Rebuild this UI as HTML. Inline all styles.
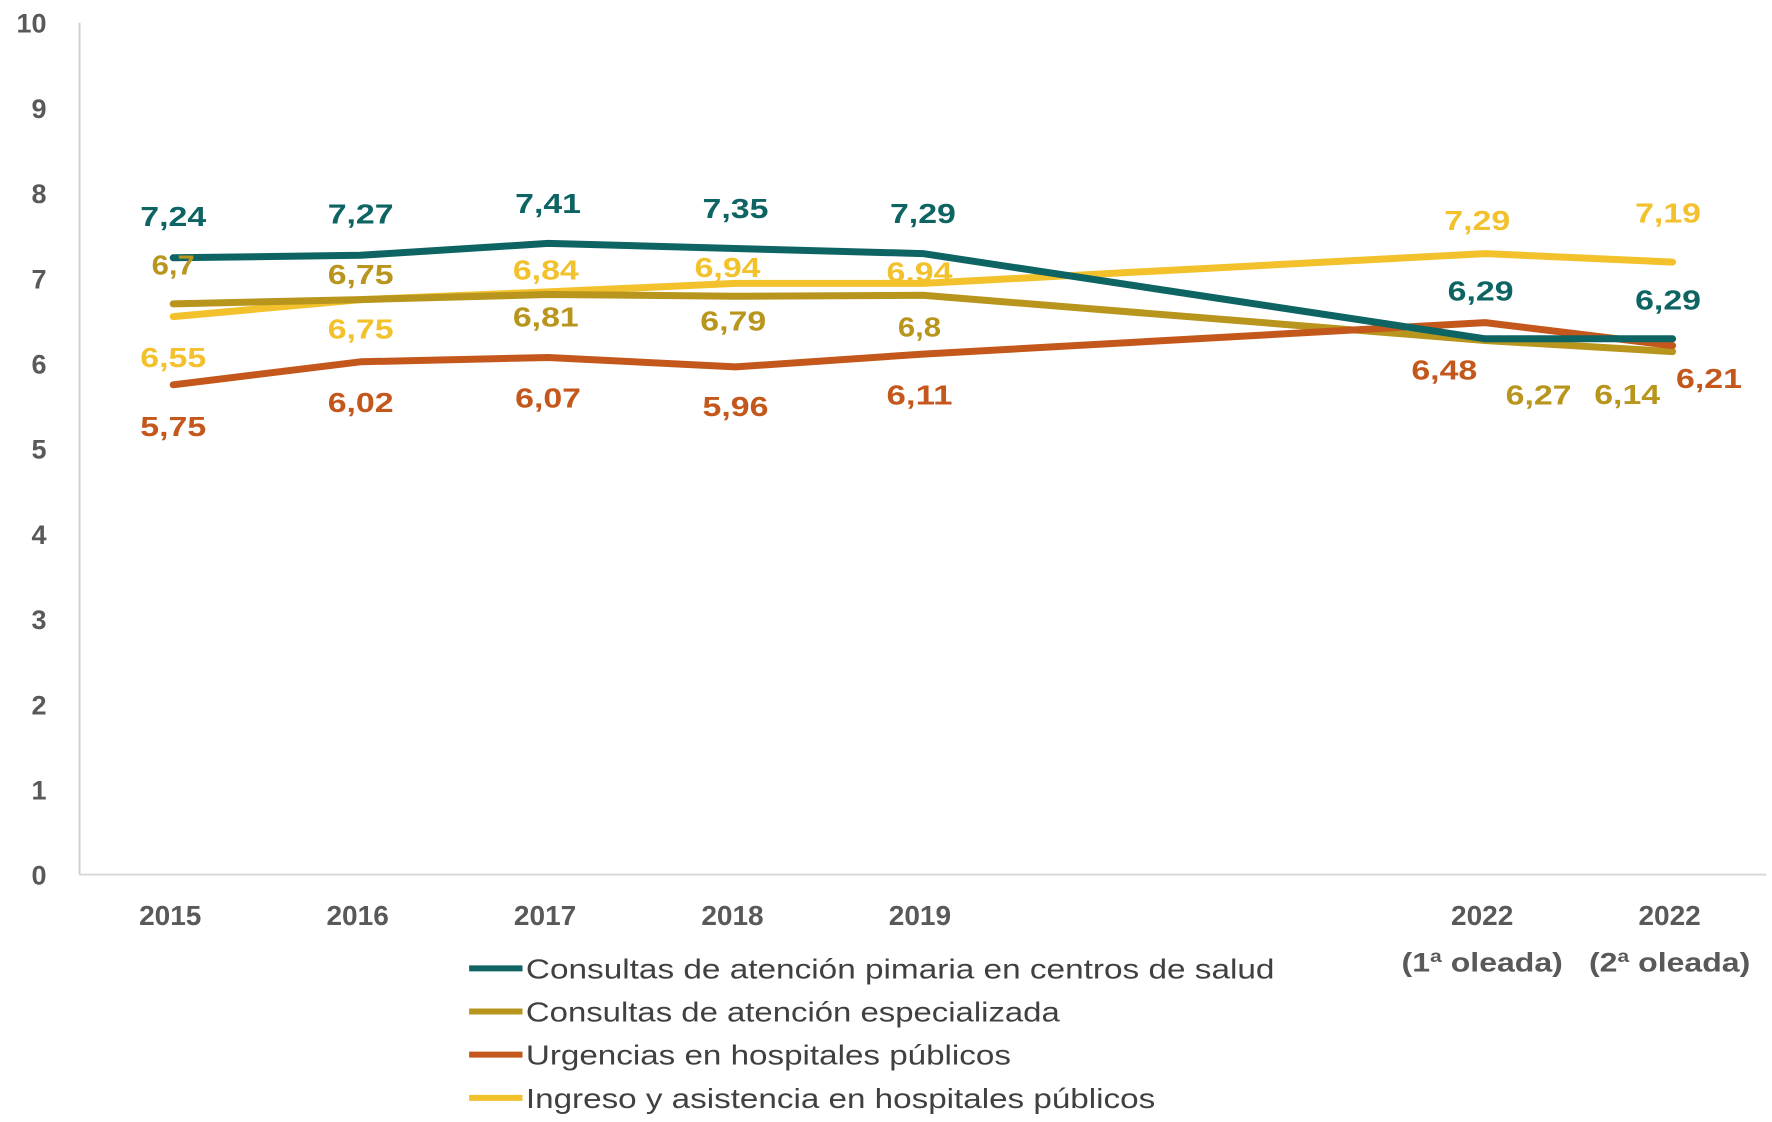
<!DOCTYPE html>
<html><head><meta charset="utf-8"><style>
html,body{margin:0;padding:0;background:#fff;}
svg{display:block;font-family:"Liberation Sans",sans-serif;}
</style></head><body>
<svg id="chart" width="1772" height="1122" viewBox="0 0 1772 1122" xmlns="http://www.w3.org/2000/svg"></svg>
<script>
const categories = ["2015","2016","2017","2018","2019","2022a","2022b"];
const slotIndex = [0,1,2,3,4,7,8];
const seriesNames = ["Consultas de atención pimaria en centros de salud","Consultas de atención especializada","Urgencias en hospitales públicos","Ingreso y asistencia en hospitales públicos"];
const primaria = [7.24,7.27,7.41,7.35,7.29,6.29,6.29];
const especializada = [6.7,6.75,6.81,6.79,6.8,6.27,6.14];
const urgencias = [5.75,6.02,6.07,5.96,6.11,6.48,6.21];
const ingreso = [6.55,6.75,6.84,6.94,6.94,7.29,7.19];
const yTicks = [0,1,2,3,4,5,6,7,8,9,10];

const S = 1772/1560;
const NS = "http://www.w3.org/2000/svg";
const svg = document.getElementById('chart');
const X0 = 70*S, SLOT = 165*S, Y0 = 770*S, YTOP = 20*S;
function xPos(i){ return X0 + SLOT*(slotIndex[i]+0.5); }
function yPos(v){ return Y0 - (Y0-YTOP)*v/10; }
function mk(tag, attrs){ const e=document.createElementNS(NS,tag); for(const k in attrs) e.setAttribute(k,attrs[k]); svg.appendChild(e); return e; }
function fmt(v){ return String(v).replace('.',','); }

let ax = mk('line',{x1:X0,y1:YTOP,x2:X0,y2:Y0,stroke:'#d0d0d0','stroke-width':2});


ax = mk('line',{x1:X0,y1:Y0,x2:X0+9*SLOT,y2:Y0,stroke:'#d9d9d9','stroke-width':2});



yTicks.forEach(t=>{
  const e = mk('text',{x:41*S,y:yPos(t)+10,'text-anchor':'end','font-size':27,'font-weight':'bold',fill:'#595959'});
  e.textContent = t;
  
  
});

const xLab1 = ["2015","2016","2017","2018","2019","2022","2022"];
const xLab2 = ["","","","","","(1ª oleada)","(2ª oleada)"];
categories.forEach((c,i)=>{
  const e = mk('text',{x:xPos(i)-3,y:810*S+5,'text-anchor':'middle','font-size':28,'font-weight':'bold',fill:'#595959'});
  e.textContent = xLab1[i];
  
  
  if(xLab2[i]){
    const e2 = mk('text',{x:xPos(i)-3,y:851*S+5,'text-anchor':'middle','font-size':27,'font-weight':'bold',fill:'#595959',textLength:142*S,lengthAdjust:'spacingAndGlyphs'});
    e2.textContent = xLab2[i];
    
    
  }
});

const series = [
  {vals:primaria,color:'#0d6463',name:'primaria',
   dx:[0,0,0,0,0,-4,-4], dy:[-34,-34,-33,-33,-33,-40,-32]},
  {vals:especializada,color:'#b8951c',name:'especializada',
   dx:[0,0,-2,-2,-3,47,-40], dy:[-32,-20,22,24,30,50,40]},
  {vals:urgencias,color:'#c4581c',name:'urgencias',
   dx:[0,0,0,0,-3,-36,32], dy:[39,38,38,37,38,44,31]},
  {vals:ingreso,color:'#f2c12c',name:'ingreso',
   dx:[0,0,-2,-7,-3,-7,-4], dy:[38,28,-17,-12,-8,-27,-41]}
];
const drawOrder = [3,1,2,0];
drawOrder.forEach(si=>{
  const s = series[si];
  const pts = s.vals.map((v,i)=>xPos(i).toFixed(1)+','+yPos(v).toFixed(1)).join(' ');
  const p = mk('polyline',{points:pts,fill:'none',stroke:s.color,'stroke-width':7,'stroke-linejoin':'round','stroke-linecap':'round'});
  
  
});
series.forEach(s=>{
  s.vals.forEach((v,i)=>{
    const e = mk('text',{x:xPos(i)+s.dx[i]*S,y:yPos(v)+s.dy[i]*S+7,'text-anchor':'middle','font-size':28,'font-weight':'bold',fill:s.color,textLength:(String(v).length>3?58:38)*S,lengthAdjust:'spacingAndGlyphs'});
    e.textContent = fmt(v);
    
    
  });
});

const legW = [659,470,427,554];
series.forEach((s,i)=>{
  const y = (856+38*i)*S - 4;
  const l = mk('line',{x1:413*S,y1:y,x2:460*S,y2:y,stroke:s.color,'stroke-width':6});
  
  
  const t = mk('text',{x:463*S,y:y+10,'font-size':28,fill:'#404040',textLength:legW[i]*S,lengthAdjust:'spacingAndGlyphs'});
  t.textContent = seriesNames[i];
  
  
});
</script>
</body></html>
